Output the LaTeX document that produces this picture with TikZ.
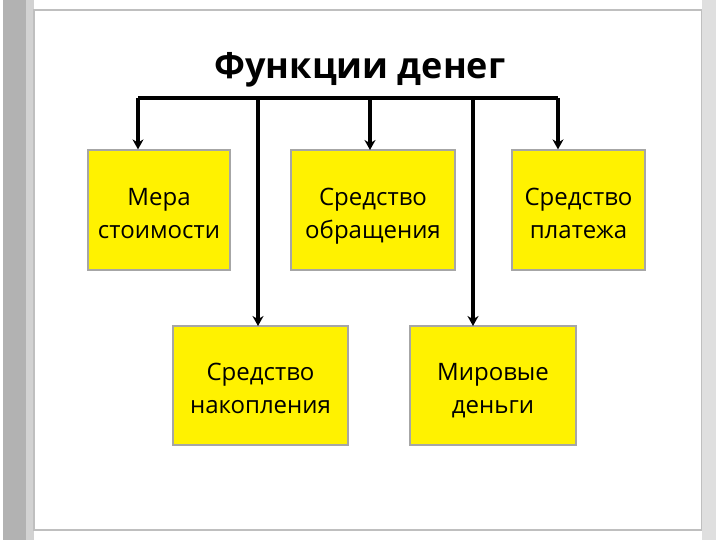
\documentclass[tikz,border=0pt]{standalone}
\usepackage{fontspec}
\setmainfont{Open Sans}
\usetikzlibrary{arrows.meta}
\begin{document}
\begin{tikzpicture}[x=1pt,y=-1pt,
  box/.style={draw=gray!70,line width=1.2pt,fill=yellow,align=center,font=\fontsize{24}{33}\selectfont,inner sep=0pt,text depth=0pt},
  conn/.style={line width=3.2pt,-{Stealth[length=10pt,width=11pt]}},
  bar/.style={line width=3.2pt}]
\useasboundingbox (0,0) rectangle (720,540);
\fill[white] (0,0) rectangle (720,540);
\fill[gray!60] (3,0) rectangle (26,540);
\fill[gray!35] (26,0) rectangle (34,540);
\draw[gray!50,line width=2pt] (34,10) rectangle (702,530);
\fill[gray!25] (702,0) rectangle (716,540);
\node[font=\fontsize{36}{40}\selectfont\bfseries] (t) at (360,70) {Функции денег};
\node[box,minimum width=142,minimum height=120] (a) at (159,210) {\strut Мера\\\strut стоимости};
\node[box,minimum width=164,minimum height=120] (b) at (373,210) {\strut Средство\\\strut обращения};
\node[box,minimum width=133,minimum height=120] (c) at (578.5,210) {\strut Средство\\\strut платежа};
\node[box,minimum width=175,minimum height=119] (d) at (260.5,385.5) {\strut Средство\\\strut накопления};
\node[box,minimum width=166,minimum height=119] (e) at (493,385.5) {\strut Мировые\\\strut деньги};
\coordinate (l) at (138,98);
\coordinate (r) at (558,98);
\draw[bar] (l) -- (r);
\draw[conn] (l) -- (l |- a.north);
\draw[conn] (370,98) -- (370,150);
\draw[conn] (r) -- (r |- c.north);
\draw[conn] (258,98) -- (258,326);
\draw[conn] (473,98) -- (473,326);
\end{tikzpicture}
\end{document}
